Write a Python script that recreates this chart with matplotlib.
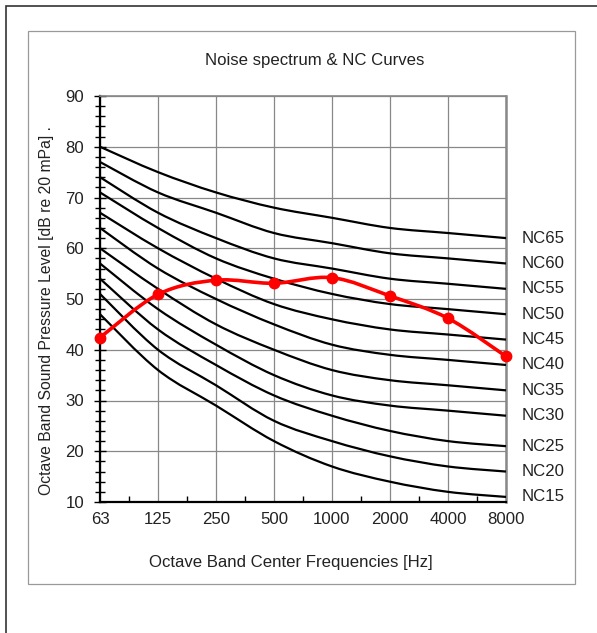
import numpy as np
import matplotlib.pyplot as plt
from matplotlib.path import Path
from matplotlib.patches import PathPatch, Rectangle

plt.rcParams["font.family"] = ["Liberation Sans", "DejaVu Sans"]

# octave band centre frequencies
freqs = ["63", "125", "250", "500", "1000", "2000", "4000", "8000"]

# NC curves (dB), lowest to highest
nc_names = ["NC15", "NC20", "NC25", "NC30", "NC35", "NC40",
            "NC45", "NC50", "NC55", "NC60", "NC65"]
nc_curves = [
    [47, 36, 29, 22, 17, 14, 12, 11],
    [51, 40, 33, 26, 22, 19, 17, 16],
    [54, 44, 37, 31, 27, 24, 22, 21],
    [57, 48, 41, 35, 31, 29, 28, 27],
    [60, 52, 45, 40, 36, 34, 33, 32],
    [64, 56, 50, 45, 41, 39, 38, 37],
    [67, 60, 54, 49, 46, 44, 43, 42],
    [71, 64, 58, 54, 51, 49, 48, 47],
    [74, 67, 62, 58, 56, 54, 53, 52],
    [77, 71, 67, 63, 61, 59, 58, 57],
    [80, 75, 71, 68, 66, 64, 63, 62],
]

# measured noise spectrum (dB)
spectrum = [42.4, 50.9, 53.7, 53.1, 54.2, 50.6, 46.2, 38.7]


def smooth_path(xs, ys):
    # catmull-rom style bezier, like a spreadsheet "smoothed line"
    pts = np.column_stack([xs, ys]).astype(float)
    n = len(pts)
    verts = [pts[0]]
    codes = [Path.MOVETO]
    for i in range(n - 1):
        p0 = pts[i - 1] if i > 0 else pts[i]
        p1 = pts[i]
        p2 = pts[i + 1]
        p3 = pts[i + 2] if i + 2 < n else pts[i + 1]
        c1 = p1 + (p2 - p0) / 6.0
        c2 = p2 - (p3 - p1) / 6.0
        verts += [c1, c2, p2]
        codes += [Path.CURVE4] * 3
    return Path(verts, codes)


W, H = 597, 633
FS = 12.1
fig = plt.figure(figsize=(W / 100, H / 100), dpi=100)

# outer frame and chart-area frame
fig.patches.append(Rectangle((6 / W, -0.1), 1.2, (H - 6) / H + 0.1, transform=fig.transFigure,
                             fill=False, edgecolor="#333333", linewidth=1.2))
fig.patches.append(Rectangle((28 / W, 1 - 584 / H), (575 - 28) / W, (584 - 31) / H,
                             transform=fig.transFigure, fill=False,
                             edgecolor="#999999", linewidth=0.9))

ax = fig.add_axes([100 / W, 1 - 502 / H, 406 / W, 406 / H])
x = np.arange(len(freqs))

for name, vals in zip(nc_names, nc_curves):
    ax.add_patch(PathPatch(smooth_path(x, vals), fill=False, edgecolor="black",
                           linewidth=1.6, zorder=3, clip_on=False))
    ax.annotate(name, xy=(x[-1], vals[-1]), xytext=(11, 0), textcoords="offset points",
                ha="left", va="center", fontsize=FS, color="#222222")

ax.add_patch(PathPatch(smooth_path(x, spectrum), fill=False, edgecolor="#ff0000",
                       linewidth=2.6, zorder=4, clip_on=False))
ax.plot(x, spectrum, linestyle="none", marker="o", markersize=7.5,
        color="#ff0000", zorder=5, clip_on=False)

ax.set_xlim(0, 7)
ax.set_ylim(10, 90)
ax.set_xticks(x)
ax.set_xticklabels(freqs)
ax.set_xticks(x[:-1] + 0.5, minor=True)
ax.set_yticks(np.arange(10, 91, 10))
ax.set_yticks(np.arange(10, 91, 2), minor=True)

ax.tick_params(axis="x", which="major", length=0, pad=7, labelsize=FS, colors="#222222")
ax.tick_params(axis="x", which="minor", direction="in", length=4, width=1, color="black")
ax.tick_params(axis="y", which="major", direction="inout", length=9, width=1,
               pad=7, labelsize=FS, colors="#222222")
ax.tick_params(axis="y", which="minor", direction="inout", length=7, width=1, color="black")
ax.tick_params(axis="y", which="both", color="black")

ax.grid(True, which="major", color="#888888", linewidth=0.9)
ax.set_axisbelow(True)

ax.spines["left"].set_linewidth(1.6)
ax.spines["bottom"].set_linewidth(1.6)
ax.spines["top"].set_color("#888888")
ax.spines["top"].set_linewidth(1.2)
ax.spines["right"].set_color("#888888")
ax.spines["right"].set_linewidth(1.8)

fig.text(315 / W, 1 - 60 / H, "Noise spectrum & NC Curves", ha="center", va="center",
         fontsize=FS, color="#222222")
fig.text(291 / W, 1 - 563 / H, "Octave Band Center Frequencies [Hz]", ha="center",
         va="center", fontsize=FS, color="#222222")
fig.text(47 / W, 1 - 311 / H, "Octave Band Sound Pressure Level [dB re 20 mPa] .",
         ha="center", va="center", rotation=90, fontsize=11.3, color="#222222")

fig.savefig("out.png", dpi=100)
